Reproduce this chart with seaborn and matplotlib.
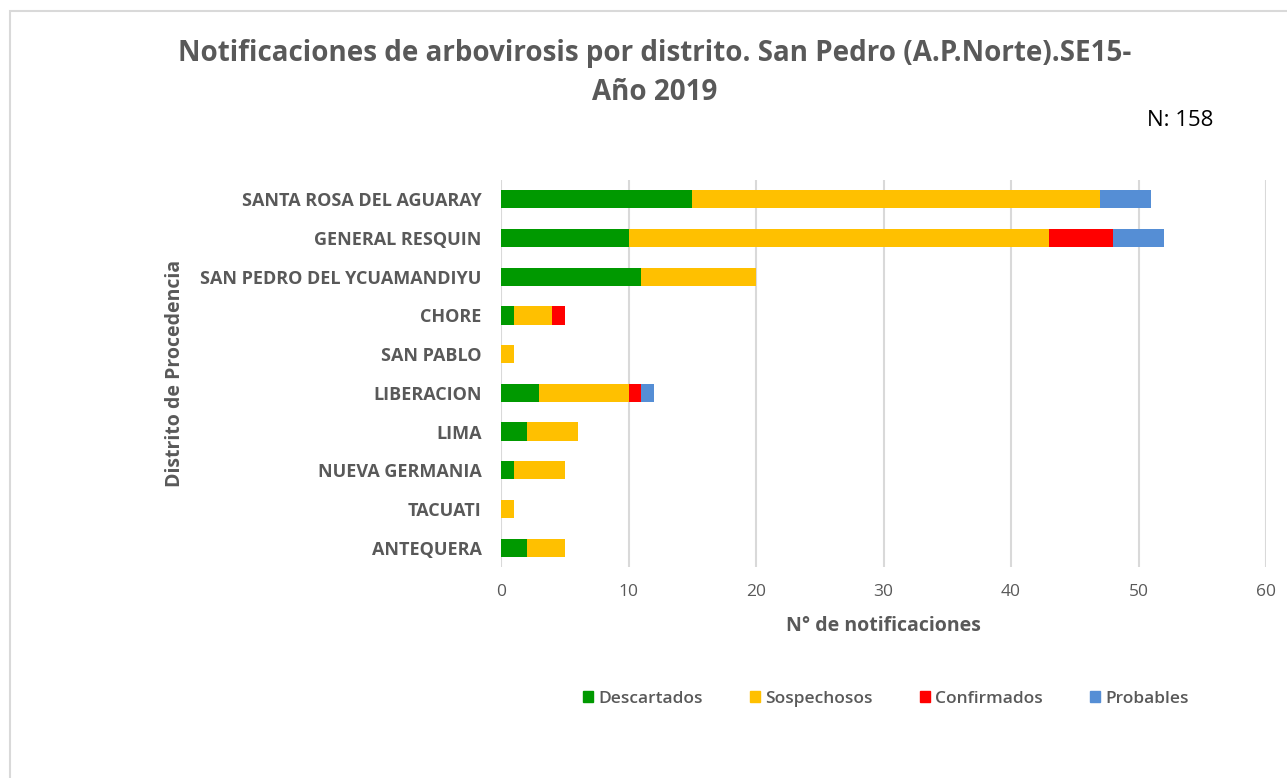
import matplotlib.pyplot as plt
import matplotlib.patches as mpatches
import seaborn as sns
import pandas as pd

# Data
distritos = ["SANTA ROSA DEL AGUARAY", "GENERAL RESQUIN", "SAN PEDRO DEL YCUAMANDIYU",
             "CHORE", "SAN PABLO", "LIBERACION", "LIMA", "NUEVA GERMANIA",
             "TACUATI", "ANTEQUERA"]
descartados = [15, 10, 11, 1, 0, 3, 2, 1, 0, 2]
sospechosos = [32, 33, 9, 3, 1, 7, 4, 4, 1, 3]
confirmados = [0, 5, 0, 1, 0, 1, 0, 0, 0, 0]
probables = [4, 4, 0, 0, 0, 1, 0, 0, 0, 0]

series = ["Descartados", "Sospechosos", "Confirmados", "Probables"]
colors = ["#009900", "#FFC000", "#FF0000", "#558ED5"]

df = pd.DataFrame({"distrito": distritos, "Descartados": descartados,
                   "Sospechosos": sospechosos, "Confirmados": confirmados,
                   "Probables": probables})
# cumulative totals for stacking
cum = df[series].cumsum(axis=1)
cum["distrito"] = df["distrito"]

text_col = "#595959"
plt.rcParams["font.family"] = ["Open Sans", "DejaVu Sans"]

fig = plt.figure(figsize=(12.87, 7.78), dpi=100)
ax = fig.add_axes([501 / 1287, 1 - 567 / 778, (1266 - 501) / 1287, (567 - 180) / 778])

# draw from the longest stack to the shortest so each segment shows
for name, col in reversed(list(zip(series, colors))):
    sns.barplot(data=cum, x=name, y="distrito", color=col, width=0.47,
                orient="h", ax=ax, saturation=1, edgecolor="none")

ax.set_xlim(0, 60)
ax.set_xticks(range(0, 61, 10))
ax.grid(axis="x", color="#d9d9d9", linewidth=1.5)
ax.set_axisbelow(True)
for s in ax.spines.values():
    s.set_visible(False)
ax.tick_params(axis="both", length=0)
ax.tick_params(axis="x", labelsize=12.5, labelcolor=text_col, pad=12)
ax.tick_params(axis="y", labelsize=13, labelcolor=text_col, pad=14)
for lbl in ax.get_yticklabels():
    lbl.set_fontweight("bold")

ax.set_xlabel("N° de notificaciones", fontsize=14, fontweight="bold", color=text_col, labelpad=12)
ax.set_ylabel("")
fig.text(175 / 1287, 1 - 373 / 778, "Distrito de Procedencia", rotation=90, ha="center",
         va="center", fontsize=14, fontweight="bold", color=text_col)

fig.text(655 / 1287, 1 - 73 / 778,
         "Notificaciones de arbovirosis por distrito. San Pedro (A.P.Norte).SE15-\nAño 2019",
         ha="center", va="center", fontsize=20, fontweight="bold", color=text_col,
         linespacing=1.45)
fig.text(1213 / 1287, 1 - 121 / 778, "N: 158", ha="right", va="center", fontsize=16, color="black")

handles = [mpatches.Patch(color=c, label=s) for s, c in zip(series, colors)]
leg = fig.legend(handles=handles, loc="center", bbox_to_anchor=(886 / 1287, 1 - 699 / 778), ncol=4,
                 frameon=False, fontsize=12.5, handlelength=0.6, handleheight=0.6,
                 handletextpad=0.3, columnspacing=2.7, labelcolor=text_col)
for t in leg.get_texts():
    t.set_fontweight("semibold")

# chart frame
fig.patches.append(mpatches.Rectangle((9.5 / 1287, -0.05), 1.2, 1 - 11 / 778 + 0.05,
                                      transform=fig.transFigure, fill=False,
                                      edgecolor="#d9d9d9", linewidth=1.5))

fig.savefig("out.png", dpi=100)
